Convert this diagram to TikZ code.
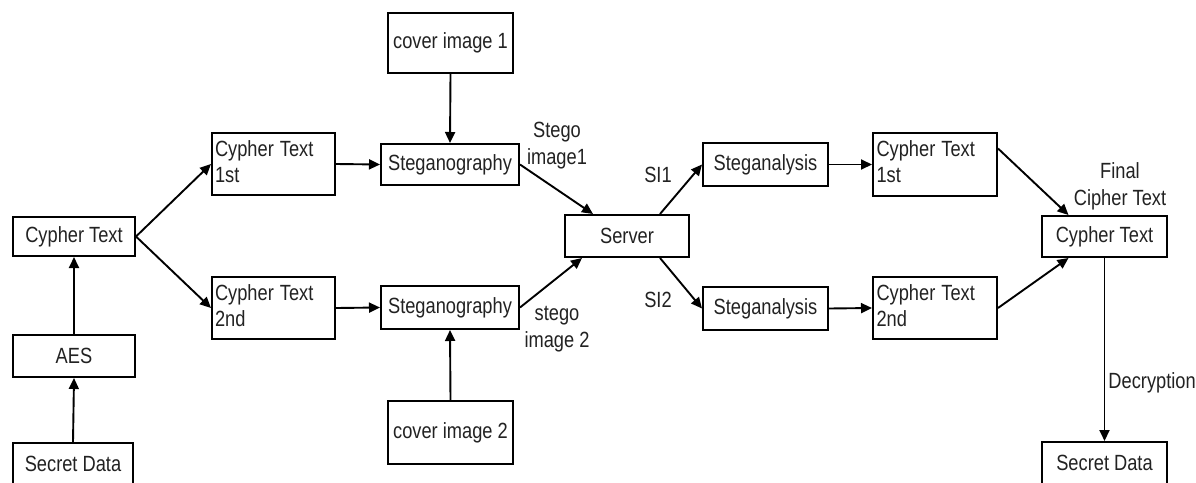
\documentclass[tikz,border=0pt]{standalone}
\usepackage{fontspec}
\setmainfont{Liberation Sans}
\usetikzlibrary{arrows.meta,calc}
\definecolor{txt}{HTML}{222222}
\newcommand\sq[1]{\scalebox{0.83}[1]{#1}}
\newcommand\two[2]{\sq{\begin{tabular}{@{}l@{}}#1\\#2\end{tabular}}}
\tikzset{
 box/.style={draw=black, line width=2pt, inner sep=3pt, text=txt, font=\fontsize{22}{26}\selectfont},
 lbox/.style={box, text width=117pt, align=left},
 arr/.style={draw=black, line width=1.9pt, -{Triangle[length=11pt,width=10pt]}},
 lab/.style={text=txt, font=\fontsize{22}{27}\selectfont, align=center, inner sep=0pt},
}
\begin{document}
\begin{tikzpicture}[x=1pt,y=-1pt]
\useasboundingbox (0,0) rectangle (1196,482);
\clip (0,0) rectangle (1196,482);
\fill[white] (0,0) rectangle (1196,482);
% left column
\node[box, minimum width=122pt, minimum height=39pt] (ct0) at (74,236.5) {\sq{Cypher Text}};
\node[box, minimum width=122pt, minimum height=42pt] (aes) at (74,356) {\sq{AES}};
\node[box, minimum width=120pt, minimum height=42pt] (sd0) at (73,464) {\sq{Secret Data}};
% cypher texts
\node[lbox, minimum width=123pt, minimum height=62pt] (ct1) at (273.5,164) {\two{Cypher Text}{1st}};
\node[lbox, minimum width=123pt, minimum height=62pt] (ct2) at (273.5,308) {\two{Cypher Text}{2nd}};
% steganography
\node[box, minimum width=125pt, minimum height=60pt] (cov1) at (450.5,43) {\sq{cover image 1}};
\node[box, minimum width=138pt, minimum height=41pt] (stg1) at (450,164.5) {\sq{Steganography}};
\node[box, minimum width=138pt, minimum height=43pt] (stg2) at (450,307.5) {\sq{Steganography}};
\node[box, minimum width=125pt, minimum height=63pt] (cov2) at (450.5,432.5) {\sq{cover image 2}};
% server
\node[box, minimum width=124pt, minimum height=42pt] (srv) at (627,236) {\sq{Server}};
% steganalysis
\node[box, minimum width=125pt, minimum height=43pt] (sa1) at (765.5,164.5) {\sq{Steganalysis}};
\node[box, minimum width=125pt, minimum height=43pt] (sa2) at (765.5,308.5) {\sq{Steganalysis}};
\node[lbox, minimum width=124pt, minimum height=63pt] (rt1) at (935,164.5) {\two{Cypher Text}{1st}};
\node[lbox, minimum width=124pt, minimum height=62pt] (rt2) at (935,308) {\two{Cypher Text}{2nd}};
\node[box, minimum width=125pt, minimum height=41pt] (fct) at (1104.5,236.5) {\sq{Cypher Text}};
\node[box, minimum width=125pt, minimum height=42pt] (sd1) at (1104.5,463) {\sq{Secret Data}};
% labels
\node[lab] (l1) at (557,146) {\sq{Stego}\\\sq{image1}};
\node[lab] (l2) at (557,329) {\sq{stego}\\\sq{image 2}};
\node[lab] (l3) at (658,175) {\sq{SI1}};
\node[lab] (l4) at (658,300) {\sq{SI2}};
\node[lab] (l5) at (1120,186) {\sq{Final}\\\sq{Cipher Text}};
% connectors
\draw[arr] (sd0.north) -- (aes.south);
\draw[arr] (aes.north) -- (ct0.south);
\draw[arr] (ct0.east) -- (ct1.west);
\draw[arr] (ct0.east) -- (ct2.west);
\draw[arr] (ct1.east) -- (stg1.west);
\draw[arr] (ct2.east) -- (stg2.west);
\draw[arr] (cov1.south) -- (stg1.north);
\draw[arr] (cov2.north) -- (stg2.south);
\draw[arr] (stg1.east) -- ([xshift=-34pt]srv.north);
\draw[arr] (stg2.east) -- ([xshift=-45pt]srv.south);
\draw[arr] ([xshift=33pt]srv.north) -- (sa1.west);
\draw[arr] ([xshift=33pt]srv.south) -- (sa2.west);
\draw[arr] (sa1.east) -- (rt1.west);
\draw[arr] (sa2.east) -- (rt2.west);
\draw[arr] ([yshift=16pt]rt1.east) -- ([xshift=-36pt]fct.north);
\draw[arr] (rt2.east) -- ([xshift=-36pt]fct.south);
\draw[arr] (fct.south) -- node[lab, pos=0.68, right=3pt] (l6) {\sq{Decryption}} (sd1.north);
\end{tikzpicture}
\end{document}
